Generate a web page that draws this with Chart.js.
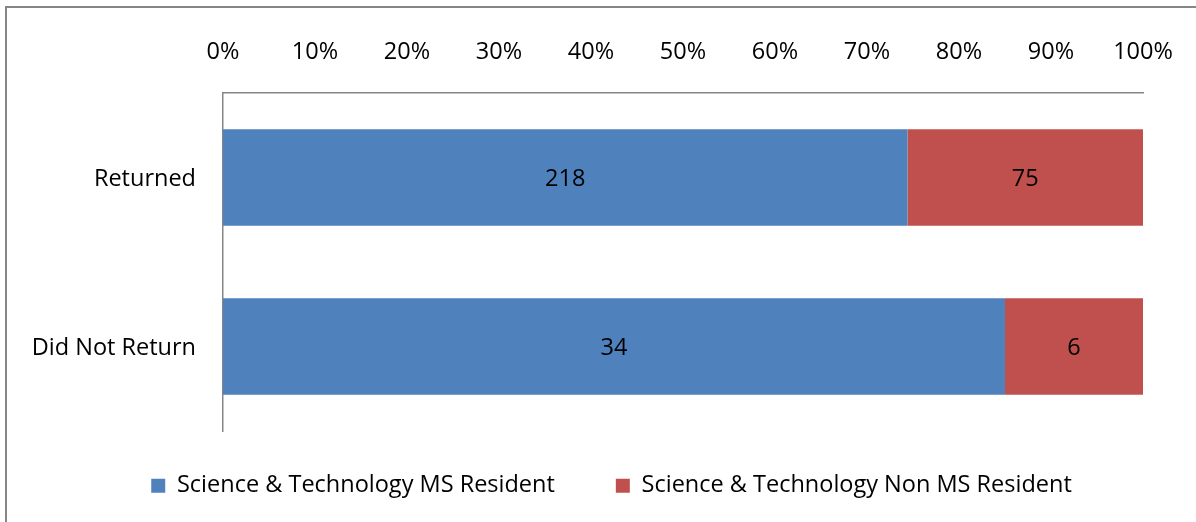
<!DOCTYPE html>
<html><head><meta charset="utf-8">
<script src="https://cdn.jsdelivr.net/npm/chart.js@4.4.1/dist/chart.umd.min.js"></script>
<style>html,body{margin:0;padding:0;background:#fff;overflow:hidden}#wrap{position:relative;width:1196px;height:522px}</style>
</head><body><div id="wrap"><canvas id="c" width="1196" height="522"></canvas></div>
<script>
const categories = ['Returned', 'Did Not Return'];
const seriesNames = ['Science & Technology MS Resident', 'Science & Technology Non MS Resident'];
const msResident = [218, 34];
const nonMsResident = [75, 6];
const seriesColors = ['#4F81BD', '#C0504D'];

const counts = [msResident, nonMsResident];
const totals = categories.map((_, i) => counts.reduce((s, a) => s + a[i], 0));
const FONT = {family: "'Open Sans', sans-serif", size: 23.5};
const LEGEND_H = 91;
const LEGEND_SHIFT_Y = 18;
const LEGEND_SHIFT_X = 40;
const LABEL_DY = 2;

const frame = {
  id: 'frame',
  beforeDraw(chart) {
    const c = chart.ctx; c.save();
    c.fillStyle = '#fff'; c.fillRect(0, 0, chart.width, chart.height);
    c.strokeStyle = '#868686'; c.lineWidth = 2;
    c.strokeRect(6, 7, chart.width + 20, chart.height + 20);
    c.restore();
  }
};
const barLabels = {
  id: 'barLabels',
  afterDatasetsDraw(chart) {
    const ctx = chart.ctx; ctx.save();
    ctx.font = FONT.size + 'px ' + FONT.family;
    ctx.fillStyle = '#000'; ctx.textAlign = 'center'; ctx.textBaseline = 'middle';
    chart.data.datasets.forEach((ds, di) => {
      chart.getDatasetMeta(di).data.forEach((el, i) => {
        const p = el.getCenterPoint();
        ctx.fillText(String(ds.counts[i]), p.x, p.y + LABEL_DY);
      });
    });
    ctx.restore();
  }
};
const legendFit = {
  id: 'legendFit',
  beforeLayout(chart) {
    const lg = chart.legend;
    if (lg && !lg._wrapped) {
      const orig = lg.fit;
      lg.fit = function () { orig.call(this); this.height = LEGEND_H; };
      lg._wrapped = true;
    }
  },
  afterLayout(chart) {
    const lg = chart.legend;
    if (lg) {
      lg.top -= LEGEND_SHIFT_Y; lg.bottom -= LEGEND_SHIFT_Y;
      lg.left += LEGEND_SHIFT_X; lg.right += LEGEND_SHIFT_X;
    }
  }
};

new Chart(document.getElementById('c'), {
  type: 'bar',
  data: {
    labels: categories,
    datasets: seriesNames.map((name, k) => ({
      label: name,
      counts: counts[k],
      data: counts[k].map((v, i) => v / totals[i] * 100),
      backgroundColor: seriesColors[k],
      borderWidth: 0,
      barPercentage: 0.57,
      categoryPercentage: 1
    }))
  },
  options: {
    responsive: false, animation: false, devicePixelRatio: 1,
    indexAxis: 'y',
    layout: {padding: {top: 0, left: 0, right: 53, bottom: 0}},
    scales: {
      x: {
        position: 'top', stacked: true, min: 0, max: 100,
        ticks: {stepSize: 10, callback: v => v + '%', color: '#000', font: FONT, padding: 0, maxRotation: 0, autoSkip: false},
        grid: {display: false, drawTicks: true, tickLength: 27},
        border: {display: true, color: '#868686', width: 1.5},
        afterFit(s) { s.height = 93; }
      },
      y: {
        stacked: true,
        ticks: {color: '#000', font: FONT, padding: 27, labelOffset: 2},
        grid: {display: false, drawTicks: false},
        border: {display: true, color: '#868686', width: 1.5},
        afterFit(s) { s.width = 223; }
      }
    },
    plugins: {
      legend: {position: 'bottom', labels: {boxWidth: 14, boxHeight: 14, padding: 61, color: '#000', font: FONT}},
      tooltip: {enabled: false}
    }
  },
  plugins: [frame, barLabels, legendFit]
});
</script></body></html>
